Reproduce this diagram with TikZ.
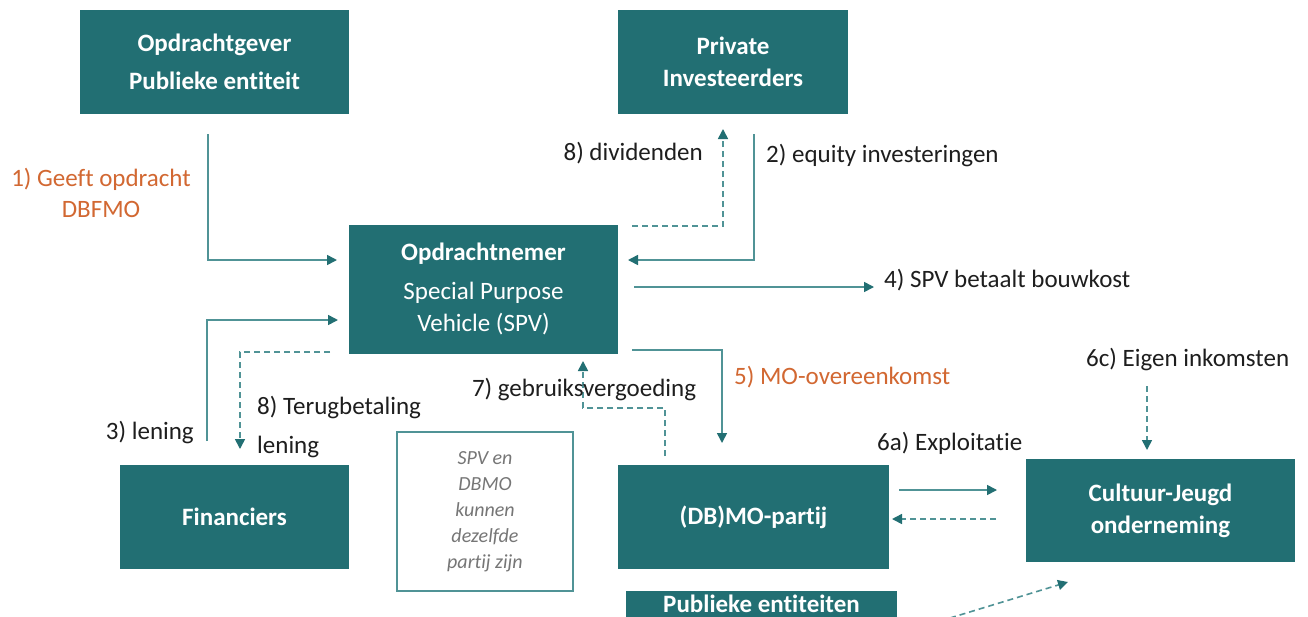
\documentclass[tikz,border=0pt]{standalone}
\usepackage{fontspec}
\setmainfont{Carlito}[Ligatures=NoCommon]
\usetikzlibrary{arrows.meta}
\definecolor{boxteal}{RGB}{34,111,115}
\definecolor{lineteal}{RGB}{80,147,150}
\definecolor{accent}{RGB}{210,104,50}
\definecolor{notegray}{RGB}{118,118,118}
\definecolor{ink}{RGB}{30,30,30}
\tikzset{
  box/.style={fill=boxteal, text=white, inner sep=0pt, align=center,
    font=\fontsize{25}{32}\selectfont\bfseries},
  flow/.style={draw=lineteal, line width=1.6pt,
    -{Triangle[length=10pt,width=10pt,fill=boxteal,color=boxteal]}},
  back/.style={flow, dash pattern=on 6pt off 4pt},
  lbl/.style={inner sep=0pt, text=ink, font=\fontsize{25}{31}\selectfont},
  notebox/.style={draw=lineteal, line width=1.2pt, fill=white, inner sep=0pt,
    align=center, text=notegray, font=\fontsize{20}{26}\selectfont\itshape}
}
\begin{document}
\begin{tikzpicture}[x=1pt, y=-1pt]
  \clip (0,0) rectangle (1308,616);
  \fill[white] (0,0) rectangle (1308,616);

  % parties
  \node[box, minimum width=269pt, minimum height=104pt,
        font=\fontsize{25}{38}\selectfont\bfseries] (gever) at (214.5,62)
    {Opdrachtgever\\ Publieke entiteit};
  \node[box, minimum width=230pt, minimum height=104pt] (priv) at (733,62)
    {Private\\ Investeerders};
  \node[box, minimum width=269pt, minimum height=129pt] (spv) at (483.5,289)
    {Opdrachtnemer\\[7pt] \mdseries Special Purpose\\ \mdseries Vehicle (SPV)};
  \node[box, minimum width=229pt, minimum height=104pt] (fin) at (234.5,517)
    {Financiers};
  \node[box, minimum width=271pt, minimum height=104pt] (dbmo) at (753.5,517)
    {(DB)MO-partij};
  \node[box, minimum width=269pt, minimum height=103pt] (cult) at (1160.5,510.5)
    {Cultuur-Jeugd\\ onderneming};
  \node[box, minimum width=271pt, minimum height=50pt, anchor=north] (pub) at (761.5,591) {};
  \node[inner sep=0pt, text=white, font=\fontsize{25}{32}\selectfont\bfseries] (pubtxt) at (761.5,604)
    {Publieke entiteiten};
  \node[notebox, minimum width=176pt, minimum height=159pt] (note) at (485,511.5)
    {SPV en\\ DBMO\\ kunnen\\ dezelfde\\ partij zijn};

  % connector end points
  \coordinate (c1a) at (208,134);   \coordinate (c1b) at (337,260);
  \coordinate (c2a) at (754,134);   \coordinate (c2b) at (628,260);
  \coordinate (c8a) at (632,226);   \coordinate (c8b) at (723,129);
  \coordinate (c4a) at (634,287);   \coordinate (c4b) at (874,287);
  \coordinate (c3a) at (207,441);   \coordinate (c3b) at (338,320);
  \coordinate (c9a) at (330,352);   \coordinate (c9b) at (240,449);
  \coordinate (c5a) at (632,350);   \coordinate (c5b) at (722,443);
  \coordinate (c7a) at (665,456);   \coordinate (c7m) at (665,408);
  \coordinate (c7b) at (583,361);
  \coordinate (c6a) at (899,490);   \coordinate (c6b) at (997,490);
  \coordinate (c6c) at (996,519);   \coordinate (c6d) at (892,519);
  \coordinate (c6e) at (1147,386);  \coordinate (c6f) at (1147,450);
  \coordinate (c6g) at (950,618);   \coordinate (c6h) at (1068,582);

  % flows
  \draw[flow] (c1a) |- (c1b);
  \draw[flow] (c2a) |- (c2b);
  \draw[back] (c8a) -| (c8b);
  \draw[flow] (c4a) -- (c4b);
  \draw[flow] (c3a) |- (c3b);
  \draw[back] (c9a) -| (c9b);
  \draw[flow] (c5a) -| (c5b);
  \draw[back] (c7a) -- (c7m) -| (c7b);
  \draw[flow] (c6a) -- (c6b);
  \draw[back] (c6c) -- (c6d);
  \draw[back] (c6e) -- (c6f);
  \draw[back] (c6g) -- (c6h);

  % labels
  \node[lbl, text=accent, align=center] (l1) at (101,192.5) {1) Geeft opdracht\\ DBFMO};
  \node[lbl, anchor=east] (l8) at (703,153) {8) dividenden};
  \node[lbl, anchor=west] (l2) at (766,156) {2) equity investeringen};
  \node[lbl, anchor=west] (l4) at (884,280) {4) SPV betaalt bouwkost};
  \node[lbl, anchor=east] (l3) at (194,432) {3) lening};
  \node[lbl, anchor=west, align=left, font=\fontsize{25}{39}\selectfont] (l9) at (257,426.5)
    {8) Terugbetaling\\ lening};
  \node[lbl] (l7) at (584,389) {7) gebruiksvergoeding};
  \node[lbl, anchor=west, text=accent] (l5) at (734,377) {5) MO-overeenkomst};
  \node[lbl, anchor=west] (l6a) at (877,443) {6a) Exploitatie};
  \node[lbl, anchor=west] (l6c) at (1086,359) {6c) Eigen inkomsten};
\end{tikzpicture}
\end{document}
